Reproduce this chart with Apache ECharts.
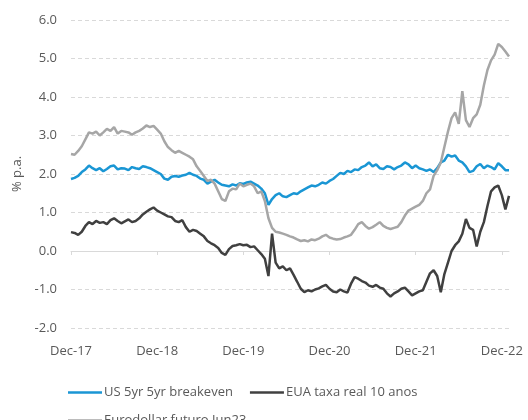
<!DOCTYPE html>
<html style="height: 100%">
  <head>
    <meta charset="utf-8" />
  </head>
  <body style="height: 100%; margin: 0; background: #fff">
    <div id="chart" style="width: 528px; height: 420px"></div>
    <script src="https://cdn.jsdelivr.net/npm/echarts@6/dist/echarts.min.js"></script>
    <script>
      // half-month calendar from Dec-17 (1st and 16th of each month)
      const dates = [];
      for (let i = 0; i < 123; i++) {
        const k = 11 + Math.floor(i / 2);
        const y = 2017 + Math.floor(k / 12);
        const m = (k % 12) + 1;
        dates.push(y + "-" + String(m).padStart(2, "0") + (i % 2 ? "-16" : "-01"));
      }

      const seriesNames = ["US 5yr 5yr breakeven", "EUA taxa real 10 anos", "Eurodollar futuro Jun23"];

      // US 5yr 5yr breakeven
      const breakeven = [
        1.87, 1.9, 1.95, 2.05, 2.12, 2.22, 2.15, 2.1, 2.15, 2.07, 2.13, 2.2, 2.22, 2.12, 2.15, 2.14,
        2.1, 2.18, 2.15, 2.13, 2.2, 2.18, 2.15, 2.1, 2.05, 2.0, 1.88, 1.85, 1.93, 1.95, 1.93, 1.96,
        1.98, 2.03, 1.98, 1.95, 1.88, 1.85, 1.75, 1.8, 1.85, 1.78, 1.72, 1.7, 1.68, 1.73, 1.7, 1.76,
        1.74, 1.78, 1.8, 1.75, 1.7, 1.62, 1.5, 1.2, 1.35, 1.45, 1.5, 1.42, 1.4, 1.45, 1.5, 1.48,
        1.55, 1.6, 1.65, 1.7, 1.68, 1.72, 1.78, 1.75, 1.82, 1.87, 1.95, 2.03, 2.0, 2.08, 2.05, 2.12,
        2.1, 2.18, 2.22, 2.3, 2.2, 2.25, 2.15, 2.13, 2.2, 2.18, 2.12, 2.18, 2.22, 2.3, 2.25, 2.15,
        2.22, 2.15, 2.12, 2.08, 2.12, 2.05, 2.15, 2.3, 2.35, 2.5, 2.45, 2.48, 2.35, 2.3, 2.2, 2.05,
        2.08, 2.2, 2.26, 2.15, 2.22, 2.18, 2.12, 2.28, 2.2, 2.1, 2.1
      ];

      // EUA taxa real 10 anos
      const realRate = [
        0.49, 0.47, 0.42, 0.5, 0.65, 0.75, 0.7, 0.78, 0.73, 0.75, 0.7, 0.8, 0.85, 0.78, 0.72, 0.77,
        0.82, 0.75, 0.78, 0.85, 0.95, 1.02, 1.08, 1.13, 1.05, 1.0, 0.95, 0.9, 0.88, 0.78, 0.75, 0.8,
        0.62, 0.5, 0.55, 0.52, 0.45, 0.38, 0.26, 0.2, 0.15, 0.08, -0.05, -0.1, 0.05, 0.13, 0.15, 0.18,
        0.15, 0.16, 0.1, 0.12, 0.02, -0.08, -0.2, -0.65, 0.45, -0.3, -0.45, -0.4, -0.5, -0.45, -0.62, -0.8,
        -0.98, -1.07, -1.02, -1.05, -1.0, -0.97, -0.92, -0.88, -0.98, -1.05, -1.07, -1.0, -1.05, -1.08, -0.85, -0.68,
        -0.72, -0.78, -0.82, -0.9, -0.93, -0.88, -0.95, -0.98, -1.1, -1.18, -1.1, -1.05, -0.98, -0.95, -1.05, -1.15,
        -1.1, -1.05, -1.02, -0.8, -0.58, -0.5, -0.65, -1.07, -0.6, -0.3, 0.0, 0.15, 0.25, 0.45, 0.83, 0.6,
        0.55, 0.12, 0.5, 0.75, 1.17, 1.55, 1.65, 1.7, 1.45, 1.08, 1.43
      ];

      // Eurodollar futuro Jun23
      const eurodollar = [
        2.52, 2.5, 2.6, 2.72, 2.9, 3.08, 3.05, 3.1, 3.0, 3.08, 3.17, 3.12, 3.22, 3.05, 3.12, 3.1,
        3.08, 3.02, 3.08, 3.12, 3.18, 3.26, 3.22, 3.25, 3.15, 3.05, 2.85, 2.7, 2.62, 2.55, 2.6, 2.55,
        2.5, 2.45, 2.38, 2.2, 2.08, 1.95, 1.82, 1.85, 1.75, 1.55, 1.35, 1.3, 1.55, 1.62, 1.6, 1.75,
        1.68, 1.72, 1.75, 1.68, 1.5, 1.55, 1.3, 0.85, 0.6, 0.5, 0.48, 0.45, 0.42, 0.38, 0.35, 0.3,
        0.26, 0.28, 0.25, 0.3, 0.28, 0.32, 0.38, 0.42, 0.35, 0.32, 0.3, 0.31, 0.35, 0.38, 0.42, 0.55,
        0.7, 0.75, 0.65, 0.58, 0.62, 0.68, 0.75, 0.65, 0.6, 0.57, 0.6, 0.63, 0.75, 0.92, 1.05, 1.1,
        1.15, 1.2, 1.3, 1.5, 1.6, 1.95, 2.1, 2.3, 2.7, 3.1, 3.45, 3.6, 3.3, 4.15, 3.4, 3.22,
        3.45, 3.55, 3.8, 4.3, 4.7, 4.95, 5.1, 5.38, 5.3, 5.18, 5.05
      ];

      const yTicks = { min: -2, max: 6, step: 1 };

      const textColor = "#595959";
      const gridColor = "#d9d9d9";
      const font = "Open Sans";
      const colors = ["#1a96d4", "#404040", "#a6a6a6"];

      const isDec = (i) => i % 24 === 0;

      const chart = echarts.init(document.getElementById("chart"));

      const legendBase = {
        left: 63,
        icon: "rect",
        itemWidth: 34,
        itemHeight: 2.5,
        itemGap: 17,
        textStyle: { color: textColor, fontSize: 13, fontFamily: font, padding: [0, 0, 0, -3] },
      };

      const option = {
        animation: false,
        color: colors,
        grid: { left: 71, right: 19, top: 20, bottom: 92 },
        legend: [
          { ...legendBase, data: seriesNames.slice(0, 2), top: 381 },
          { ...legendBase, data: seriesNames.slice(2), top: 409 },
        ],
        xAxis: [
          {
            type: "category",
            data: dates,
            boundaryGap: false,
            position: "bottom",
            axisLine: { show: false, onZero: false },
            axisTick: { show: false },
            splitLine: { show: false },
            axisLabel: {
              interval: (i) => isDec(i),
              margin: 17,
              color: textColor,
              fontSize: 13,
              fontFamily: font,
              formatter: (v) => "Dec-" + v.slice(2, 4),
            },
          },
          {
            type: "category",
            data: dates,
            boundaryGap: false,
            position: "bottom",
            axisLine: { show: true, onZero: true, lineStyle: { color: gridColor, width: 1 } },
            axisTick: { show: true, interval: (i) => isDec(i), length: 4, lineStyle: { color: gridColor } },
            axisLabel: { show: false },
            splitLine: { show: false },
          },
        ],
        yAxis: {
          type: "value",
          min: yTicks.min,
          max: yTicks.max,
          interval: yTicks.step,
          name: "% p.a.",
          nameLocation: "middle",
          nameGap: 44,
          nameTextStyle: { color: textColor, fontSize: 13, fontFamily: font },
          axisLine: { show: false },
          axisTick: { show: false },
          axisLabel: {
            margin: 14,
            color: textColor,
            fontSize: 13,
            fontFamily: font,
            formatter: (v) => v.toFixed(1),
          },
          splitLine: { lineStyle: { color: gridColor, type: [4, 3], width: 1 } },
        },
        series: [
          { name: seriesNames[0], data: breakeven },
          { name: seriesNames[1], data: realRate },
          { name: seriesNames[2], data: eurodollar },
        ].map((s) => ({
          ...s,
          type: "line",
          xAxisIndex: 0,
          showSymbol: false,
          symbol: "none",
          lineStyle: { width: 2.5 },
        })),
      };

      chart.setOption(option);
    </script>
  </body>
</html>
